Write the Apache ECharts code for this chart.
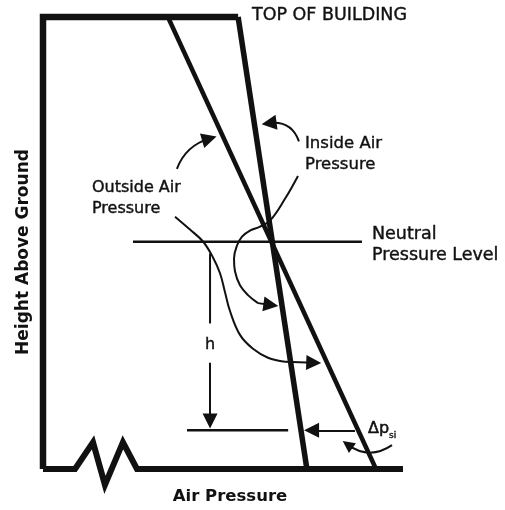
<!DOCTYPE html>
<html>
<head>
<meta charset="utf-8">
<title>Neutral pressure level</title>
<script src="https://cdn.jsdelivr.net/npm/echarts@6/dist/echarts.min.js"></script>
<style>
  html, body { margin: 0; background: #fff; }
  #main { width: 505px; height: 510px; }
</style>
</head>
<body>
<div id="main"></div>
<script>
// diagram units: x = air pressure (0..100), y = height above ground (0..100)
var buildingOutline = [[0, 0], [0, 100], [54.2, 100]];
var groundLine = [[0, 0], [8.9, 0], [13.9, 5.9], [17.2, -3.5], [22.2, 5.9], [26.1, 0], [100, 0]];
var outsidePressure = [[34.7, 100], [92.5, 0]];
var insidePressure = [[54.2, 100], [73.3, 0]];
var neutralLevel = [[25, 50.3], [88.6, 50.3]];
var lowerLevel = [[40, 8.6], [68.1, 8.6]];
var hLine = [[46.4, 47.7], [46.4, 32.2]];
var insideCurve = [
  [70.83, 64.84], [67.22, 59.78], [63.06, 54.95], [60.28, 53.63], [57.5, 52.75],
  [55.28, 51.43], [53.89, 49.45], [53.06, 46.59], [53.33, 43.74], [54.72, 40.66],
  [56.94, 38.46], [59.72, 36.7]
];
var outsideCurve = [
  [36.67, 55.82], [40.83, 52.97], [44.44, 50.33], [47.22, 46.81], [49.17, 43.3],
  [50.56, 39.12], [51.94, 34.95], [54.72, 29.67], [58.33, 26.59], [62.5, 24.62],
  [67.22, 23.74]
];
// arrows: [from, to, curveness]
var arrowList = [
  [[37.2, 66.4], [46.2, 73.1], 0.25],
  [[71.1, 72.5], [62.8, 76.5], -0.4],
  [[46.4, 23.52], [46.4, 10.6], 0],
  [[86.67, 8.57], [74.6, 8.57], 0],
  [[59.72, 36.7], [63.3, 36.3], 0],
  [[67.22, 23.74], [75.2, 23.52], 0]
];
var smallArrowList = [
  [[96.94, 5.27], [84.6, 5.4], 0.35]
];
var textLabels = [
  { name: 'TOP OF BUILDING', value: [58.06, 100.44], size: 17.5 },
  { name: 'Inside Air\nPressure', value: [72.78, 69.67], size: 16.5 },
  { name: 'Outside Air\nPressure', value: [13.61, 59.78], size: 16 },
  { name: 'Neutral\nPressure Level', value: [91.39, 49.67], size: 17.5 },
  { name: 'h', value: [46.39, 27.4], size: 16, align: 'center' },
  { name: 'Δp', sub: 'si', value: [90.28, 8.8], size: 16 }
];
var axisNames = { x: 'Air Pressure', y: 'Height Above Ground' };

var ink = '#111';
var font = 'DejaVu Sans';

var chart = echarts.init(document.getElementById('main'));

function seg(data, width, extra) {
  var s = {
    type: 'line',
    data: data,
    symbol: 'none',
    clip: false,
    silent: true,
    lineStyle: { color: ink, width: width, join: 'miter', cap: 'butt' }
  };
  for (var k in extra) s[k] = extra[k];
  return s;
}

function arrows(list, head) {
  return {
    type: 'lines',
    coordinateSystem: 'cartesian2d',
    silent: true,
    symbol: ['none', 'triangle'],
    symbolSize: head,
    lineStyle: { color: ink, width: 2, opacity: 1 },
    data: list.map(function (a) {
      return { coords: [a[0], a[1]], lineStyle: { curveness: a[2] } };
    }),
    z: 3
  };
}

var option = {
  backgroundColor: '#fff',
  animation: false,
  grid: { left: 43, right: 102, top: 17, bottom: 38 },
  xAxis: {
    type: 'value', min: 0, max: 100,
    name: axisNames.x, nameLocation: 'middle', nameGap: 19,
    nameTextStyle: { fontFamily: font, fontWeight: 'bold', fontSize: 16.5, color: ink, padding: [0, 0, 0, 14] },
    axisLine: { show: false }, axisTick: { show: false }, axisLabel: { show: false }, splitLine: { show: false }
  },
  yAxis: {
    type: 'value', min: 0, max: 100,
    name: axisNames.y, nameLocation: 'middle', nameGap: 11,
    nameTextStyle: { fontFamily: font, fontWeight: 'bold', fontSize: 17, color: ink, padding: [0, 18, 0, 0] },
    axisLine: { show: false }, axisTick: { show: false }, axisLabel: { show: false }, splitLine: { show: false }
  },
  series: [
    seg(buildingOutline, 6.5),
    seg(groundLine, 6),
    seg(outsidePressure, 4.5),
    seg(insidePressure, 5.5),
    seg(neutralLevel, 2.5),
    seg(lowerLevel, 2.5),
    seg(hLine, 2),
    seg(insideCurve, 2, { smooth: 0.4 }),
    seg(outsideCurve, 2, { smooth: 0.4 }),
    arrows(arrowList, 15),
    arrows(smallArrowList, 12),
    {
      type: 'scatter',
      symbolSize: 0,
      clip: false,
      silent: true,
      itemStyle: { opacity: 1 },
      data: textLabels.map(function (t) {
        var lab = {
          show: true,
          position: 'inside',
          align: t.align || 'left',
          verticalAlign: 'middle',
          fontFamily: font,
          fontSize: t.size,
          lineHeight: 21,
          color: ink,
          textBorderColor: ink,
          textBorderWidth: 0.4,
          formatter: t.name
        };
        if (t.sub) {
          lab.formatter = '{a|' + t.name + '}{s|' + t.sub + '}';
          lab.rich = {
            a: { fontFamily: font, fontSize: t.size, color: ink, textBorderColor: ink, textBorderWidth: 0.5 },
            s: { fontFamily: font, fontSize: 9, color: ink, verticalAlign: 'bottom', padding: [8, 0, 0, 0] }
          };
        }
        return { name: t.name, value: t.value, label: lab };
      }),
      z: 4
    }
  ]
};

chart.setOption(option);
window.addEventListener('resize', function () {
  chart.resize();
});
</script>
</body>
</html>
